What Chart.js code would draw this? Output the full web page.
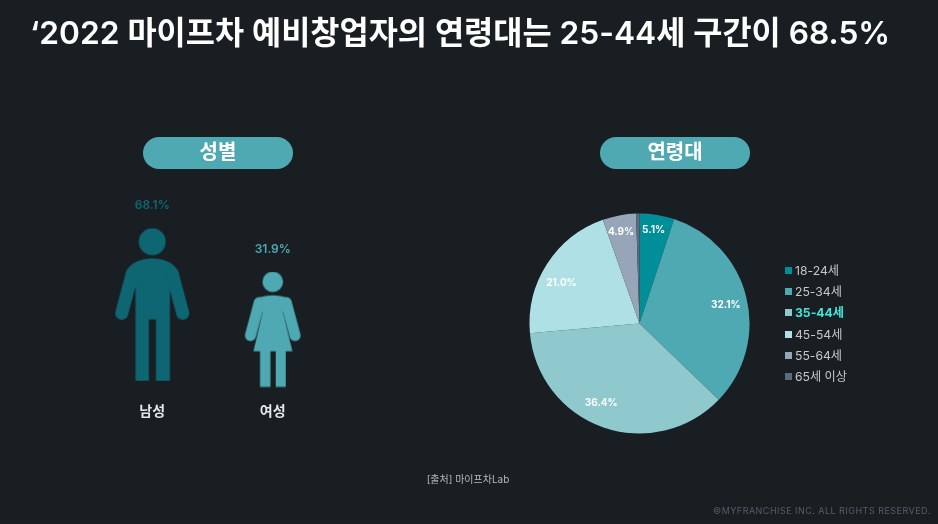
<!DOCTYPE html>
<html lang="ko">
<head>
<meta charset="utf-8">
<title>마이프차 예비창업자</title>
<script src="https://cdn.jsdelivr.net/npm/chart.js@4"></script>
<style>
html, body { margin: 0; padding: 0; }
body { width: 938px; height: 524px; background: #191e23; position: relative; overflow: hidden; font-family: Inter, "Noto Sans CJK KR", sans-serif; }
h1 { position: absolute; left: 30px; top: 12px; margin: 0; font-size: 31.7px; line-height: 42px; font-weight: 600; color: #fff; white-space: nowrap; will-change: transform; }
.pill { position: absolute; top: 137px; width: 150px; height: 32px; line-height: 31px; border-radius: 16px; background: #4fa9b2; color: #fff; text-align: center; font-size: 20px; font-weight: 600; will-change: transform; }
canvas { position: absolute; }
#legend { position: absolute; left: 785px; top: 260px; will-change: transform; }
.row { height: 21.2px; line-height: 21.2px; font-size: 12.2px; color: #c4c8cc; white-space: nowrap; }
.row i { display: inline-block; width: 7px; height: 7px; margin-right: 3px; vertical-align: 1px; }
.row.on { color: #3fe6da; font-weight: 700; }
#source { position: absolute; left: 368px; width: 200px; top: 472px; text-align: center; font-size: 10px; line-height: 14px; color: #b4b8bc; will-change: transform; }
#footer { position: absolute; right: 7px; top: 504px; font-size: 9px; line-height: 13px; letter-spacing: 0.47px; color: #565d64; will-change: transform; }
</style>
</head>
<body>
<h1>‘2022 마이프차 예비창업자의 연령대는 25-44세 구간이 68.5%</h1>
<div class="pill" style="left:143px">성별</div>
<div class="pill" style="left:600px">연령대</div>
<canvas id="gender-chart" width="241" height="242" style="left:92px;top:180px"></canvas>
<canvas id="age-chart" width="229" height="229" style="left:525px;top:209px"></canvas>
<div id="legend"></div>
<div id="source">[출처] 마이프차Lab</div>
<div id="footer">©MYFRANCHISE INC. ALL RIGHTS RESERVED.</div>
<script>
const genderLabels = ['남성', '여성'];
const genderValues = [68.1, 31.9];
const genderColors = ['#0e6673', '#4fa9b2'];

const ageLabels = ['18-24세', '25-34세', '35-44세', '45-54세', '55-64세', '65세 이상'];
const ageValues = [5.1, 32.1, 36.4, 21.0, 4.9, 0.5];
const ageColors = ['#008f98', '#4fa9b2', '#8fc9cd', '#aee0e6', '#97a5b8', '#5b6b80'];
const highlightAge = '35-44세';

const fontFamily = 'Inter, "Noto Sans CJK KR", sans-serif';

// person icons, coordinates are relative to each icon's own box
function manIcon(color) {
    const c = document.createElement('canvas');
    c.width = 76;
    c.height = 154;
    const g = c.getContext('2d');
    g.fillStyle = color;
    g.strokeStyle = color;
    g.beginPath();
    g.arc(38, 14, 13.5, 0, Math.PI * 2);
    g.fill();
    g.beginPath();
    g.moveTo(21.3, 153);
    g.lineTo(21.3, 60);
    g.lineTo(11.7, 44.6);
    g.quadraticCurveTo(17, 31.5, 38, 30.5);
    g.quadraticCurveTo(59, 31.5, 64.3, 44.6);
    g.lineTo(55.7, 60);
    g.lineTo(55.7, 153);
    g.lineTo(41.7, 153);
    g.lineTo(41.7, 91.7);
    g.lineTo(34.7, 91.7);
    g.lineTo(34.7, 153);
    g.closePath();
    g.fill();
    g.lineCap = 'round';
    g.lineWidth = 13;
    g.beginPath();
    g.moveTo(18, 46);
    g.lineTo(7.5, 85.5);
    g.moveTo(58, 46);
    g.lineTo(68.5, 85.5);
    g.stroke();
    return c;
}

function womanIcon(color) {
    const c = document.createElement('canvas');
    c.width = 58;
    c.height = 116;
    const g = c.getContext('2d');
    g.fillStyle = color;
    g.strokeStyle = color;
    g.beginPath();
    g.arc(29, 10.3, 10.3, 0, Math.PI * 2);
    g.fill();
    g.beginPath();
    g.moveTo(16.3, 79.7);
    g.lineTo(16.3, 115.3);
    g.lineTo(26.7, 115.3);
    g.lineTo(26.7, 79.7);
    g.lineTo(32, 79.7);
    g.lineTo(32, 115.3);
    g.lineTo(42, 115.3);
    g.lineTo(42, 79.7);
    g.lineTo(48.7, 79.7);
    g.lineTo(39, 40);
    g.lineTo(47.8, 30);
    g.quadraticCurveTo(42, 23.7, 29, 23.7);
    g.quadraticCurveTo(16, 23.7, 10.2, 30);
    g.lineTo(19, 40);
    g.lineTo(9.7, 79.7);
    g.closePath();
    g.fill();
    g.lineCap = 'round';
    g.lineWidth = 11;
    g.beginPath();
    g.moveTo(15.5, 31);
    g.lineTo(6.7, 64);
    g.moveTo(42.5, 31);
    g.lineTo(51.3, 64);
    g.stroke();
    return c;
}

const genderValueLabels = {
    id: 'genderValueLabels',
    afterDatasetsDraw(chart) {
        const ctx = chart.ctx;
        ctx.save();
        ctx.font = '600 12px ' + fontFamily;
        ctx.textAlign = 'center';
        ctx.textBaseline = 'middle';
        chart.getDatasetMeta(0).data.forEach((pt, i) => {
            const icon = pt.options.pointStyle;
            ctx.fillStyle = genderColors[i];
            ctx.fillText(genderValues[i].toFixed(1) + '%', pt.x, pt.y - icon.height / 2 - 22);
        });
        ctx.restore();
    }
};

new Chart(document.getElementById('gender-chart'), {
    type: 'line',
    data: {
        labels: genderLabels,
        datasets: [{
            data: genderValues,
            showLine: false,
            clip: false,
            pointStyle: [manIcon(genderColors[0]), womanIcon(genderColors[1])]
        }]
    },
    options: {
        responsive: false,
        animation: false,
        devicePixelRatio: 1,
        layout: { padding: 0, autoPadding: false },
        plugins: { legend: { display: false }, tooltip: { enabled: false } },
        scales: {
            x: {
                offset: true,
                grid: { display: false },
                border: { display: false },
                ticks: { color: '#e4e6e8', padding: 2, font: { size: 14, weight: '700', family: fontFamily } }
            },
            y: { display: false, min: -61, max: 250 }
        }
    },
    plugins: [genderValueLabels]
});

// small nudges so the text lands where the reference has it: [dx, dy] per slice
const ageLabelNudge = [[-1, 0], [1, 3], [-9, -3], [-4, 7], [-1, 1], [0, 0]];

const ageValueLabels = {
    id: 'ageValueLabels',
    afterDatasetsDraw(chart) {
        const ctx = chart.ctx;
        ctx.save();
        ctx.font = '700 10px ' + fontFamily;
        ctx.fillStyle = '#fff';
        ctx.textAlign = 'center';
        ctx.textBaseline = 'middle';
        chart.getDatasetMeta(0).data.forEach((arc, i) => {
            if (ageValues[i] < 1) return;
            const mid = (arc.startAngle + arc.endAngle) / 2;
            const r = arc.outerRadius * (ageValues[i] < 10 ? 0.86 : 0.8);
            const x = arc.x + Math.cos(mid) * r + ageLabelNudge[i][0];
            const y = arc.y + Math.sin(mid) * r + ageLabelNudge[i][1];
            ctx.fillText(ageValues[i].toFixed(1) + '%', x, y);
        });
        ctx.restore();
    }
};

new Chart(document.getElementById('age-chart'), {
    type: 'pie',
    data: {
        labels: ageLabels,
        datasets: [{ data: ageValues, backgroundColor: ageColors, borderWidth: 0, radius: 110 }]
    },
    options: {
        responsive: false,
        animation: false,
        devicePixelRatio: 1,
        layout: { padding: 0 },
        plugins: { legend: { display: false }, tooltip: { enabled: false } }
    },
    plugins: [ageValueLabels]
});

// legend sits outside the canvas because one row has its own weight and colour
const legendEl = document.getElementById('legend');
ageLabels.forEach((label, i) => {
    const row = document.createElement('div');
    row.className = label === highlightAge ? 'row on' : 'row';
    const swatch = document.createElement('i');
    swatch.style.background = ageColors[i];
    row.appendChild(swatch);
    row.appendChild(document.createTextNode(label));
    legendEl.appendChild(row);
});
</script>
</body>
</html>
